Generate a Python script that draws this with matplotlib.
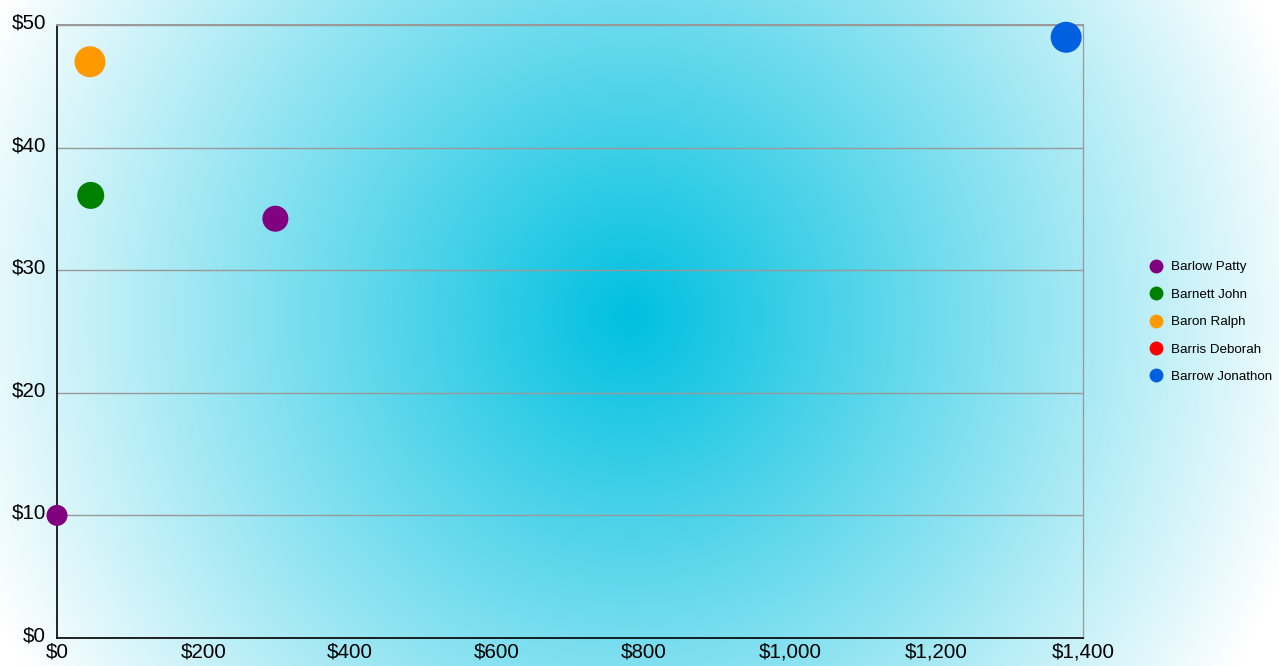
import numpy as np
import matplotlib
matplotlib.use('Agg')
import matplotlib.pyplot as plt
import matplotlib.transforms as mtransforms
from matplotlib.lines import Line2D
from matplotlib.ticker import FuncFormatter

plt.rcParams['font.family'] = ['Liberation Sans', 'DejaVu Sans']

# data
names = ['Barlow Patty', 'Barnett John', 'Baron Ralph', 'Barris Deborah', 'Barrow Jonathon']
colors = ['#800080', '#008000', '#ff9900', '#ff0000', '#0060e0']
series_x = [[0, 298], [46], [45], [], [1377]]
series_y = [[10.0, 34.2], [36.1], [47.0], [], [49.0]]
series_size = [[21, 26], [27], [31], [], [31]]   # bubble diameter (px)
x_ticks = [0, 200, 400, 600, 800, 1000, 1200, 1400]
y_ticks = [0, 10, 20, 30, 40, 50]

W, H = 1279, 666
fig = plt.figure(figsize=(W / 100, H / 100), dpi=100)

# radial gradient background
bg = fig.add_axes([0, 0, 1, 1], zorder=-10)
yy, xx = np.mgrid[0:H, 0:W]
d = np.sqrt((xx - 630) ** 2 + (yy - 315) ** 2) / 700.0
t = np.clip(d, 0, 1)[..., None]
c0 = np.array([0x00, 0xc0, 0xe0]) / 255.0
img = c0 * (1 - t) + 1.0 * t
bg.imshow(img, extent=[0, W, H, 0], aspect='auto', interpolation='bilinear')
bg.set_axis_off()

ax = fig.add_axes([57 / W, (H - 638) / H, 1026 / W, 613 / H])
ax.set_facecolor('none')
ax.set_xlim(0, 1400)
ax.set_ylim(0, 50)
ax.set_xticks(x_ticks)
ax.set_yticks(y_ticks)
ax.xaxis.set_major_formatter(FuncFormatter(lambda v, p: f'${v:,.0f}'))
ax.yaxis.set_major_formatter(FuncFormatter(lambda v, p: f'${v:,.0f}'))
ax.tick_params(length=0, labelsize=14.8, colors='black')
ax.tick_params(axis='y', pad=8)
ax.tick_params(axis='x', pad=3)
ax.grid(axis='y', color='#999999', lw=1.0)
ax.set_axisbelow(True)
ax.spines['left'].set_color('black')
ax.spines['bottom'].set_color('black')
ax.spines['left'].set_linewidth(1.2)
ax.spines['bottom'].set_linewidth(1.2)
ax.spines['right'].set_color('#999999')
ax.spines['right'].set_linewidth(0.9)
ax.spines['top'].set_color('#999999')
ax.spines['top'].set_linewidth(1.4)

offset = mtransforms.ScaledTranslation(0, 4 / 100, fig.dpi_scale_trans)
for lab in ax.get_yticklabels():
    lab.set_transform(lab.get_transform() + offset)

for name, col, xs, ys, ds in zip(names, colors, series_x, series_y, series_size):
    if len(xs) == 0:
        continue
    s = [(dd * 0.72) ** 2 for dd in ds]
    ax.scatter(xs, ys, s=s, color=col, edgecolors='none', clip_on=False, zorder=5)

handles = [Line2D([], [], marker='o', linestyle='none', markersize=10,
                  markerfacecolor=c, markeredgecolor='none') for c in colors]
fig.legend(handles, names, loc='center left', bbox_to_anchor=(1149 / W, 1 - 322 / H),
           frameon=False, fontsize=9.6, handlelength=1.0, handletextpad=0.62,
           labelspacing=1.13, borderpad=0, borderaxespad=0)

fig.savefig('out.png', dpi=100)
